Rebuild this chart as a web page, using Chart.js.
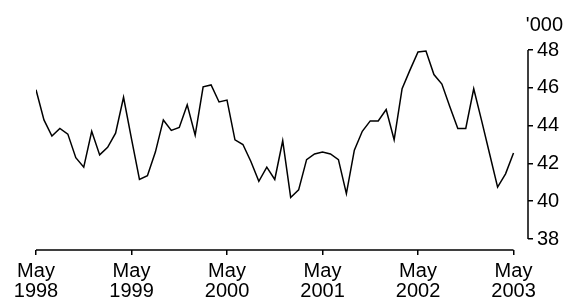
<!DOCTYPE html>
<html>
<head>
<meta charset="utf-8">
<script src="https://cdn.jsdelivr.net/npm/chart.js@4.4.0/dist/chart.umd.min.js"></script>
<style>
  body { margin: 0; background: #fff; }
  canvas { display: block; }
</style>
</head>
<body>
<canvas id="myChart" width="567" height="302"></canvas>
<script>
// monthly series, May 1998 .. May 2003 ('000)
var startMonth = 'May';
var tickYears = ['1998', '1999', '2000', '2001', '2002', '2003'];
var yTicks = [38, 40, 42, 44, 46, 48];
var values = [
	45.9, 44.3, 43.45, 43.85, 43.55, 42.3, 41.8, 43.7, 42.45, 42.85, 43.6, 45.5,
	43.3, 41.15, 41.35, 42.6, 44.3, 43.75, 43.9, 45.1, 43.5, 46.05, 46.15, 45.25,
	45.35, 43.25, 43.0, 42.1, 41.05, 41.8, 41.15, 43.2, 40.2, 40.6, 42.2, 42.5,
	42.6, 42.5, 42.2, 40.4, 42.7, 43.7, 44.25, 44.25, 44.85, 43.25, 45.95, 46.95,
	47.9, 47.95, 46.7, 46.2, 45.0, 43.85, 43.85, 45.95, 44.25, 42.5, 40.75, 41.45,
	42.55
];
var unitLabel = "'000";

var FONT = { family: '"Liberation Sans", Arial, sans-serif', size: 20, lineHeight: 1 };

// axis lines only span the tick range, like the original
var axisLines = {
	id: 'axisLines',
	afterDraw: function(chart) {
		var ctx = chart.ctx;
		var xs = chart.scales.x, ys = chart.scales.y;
		ctx.save();
		ctx.strokeStyle = '#000';
		ctx.lineWidth = 1.5;
		ctx.beginPath();
		ctx.moveTo(xs.getPixelForValue(0), xs.top);
		ctx.lineTo(xs.getPixelForValue((tickYears.length - 1) * 12), xs.top);
		ctx.moveTo(ys.left, ys.getPixelForValue(yTicks[yTicks.length - 1]));
		ctx.lineTo(ys.left, ys.getPixelForValue(yTicks[0]));
		ctx.stroke();
		ctx.fillStyle = '#000';
		ctx.font = '20px "Liberation Sans", Arial, sans-serif';
		ctx.textAlign = 'right';
		ctx.textBaseline = 'alphabetic';
		ctx.fillText(unitLabel, 563, 31);
		ctx.restore();
	}
};

var ctx = document.getElementById('myChart').getContext('2d');
var chart = new Chart(ctx, {
	type: 'line',
	data: {
		datasets: [{
			data: values.map(function(v, i) { return { x: i, y: v }; }),
			borderColor: '#000',
			borderWidth: 1.5,
			pointRadius: 0,
			tension: 0,
			fill: false
		}]
	},
	options: {
		responsive: false,
		animation: false,
		devicePixelRatio: 1,
		layout: { padding: { left: 36, top: 50, right: 0, bottom: 0 } },
		plugins: { legend: { display: false }, tooltip: { enabled: false } },
		scales: {
			x: {
				type: 'linear',
				min: 0,
				max: 61.82,
				border: { display: false },
				grid: { drawOnChartArea: false, drawTicks: true, tickLength: 5, color: '#000', lineWidth: 1.5 },
				afterBuildTicks: function(scale) {
					scale.ticks = tickYears.map(function(y, i) { return { value: i * 12 }; });
				},
				afterFit: function(scale) { scale.height = 52; },
				ticks: {
					autoSkip: false,
					maxRotation: 0,
					padding: 6,
					color: '#000',
					font: FONT,
					callback: function(v) { return [startMonth, tickYears[Math.round(v / 12)]]; }
				}
			},
			y: {
				position: 'right',
				min: 37.42,
				max: 48,
				border: { display: false },
				grid: { drawOnChartArea: false, drawTicks: true, tickLength: 5, color: '#000', lineWidth: 1.5 },
				afterBuildTicks: function(scale) {
					scale.ticks = yTicks.map(function(v) { return { value: v }; });
				},
				afterFit: function(scale) { scale.width = 39; },
				ticks: { padding: 4, color: '#000', font: FONT }
			}
		}
	},
	plugins: [axisLines]
});
</script>
</body>
</html>
